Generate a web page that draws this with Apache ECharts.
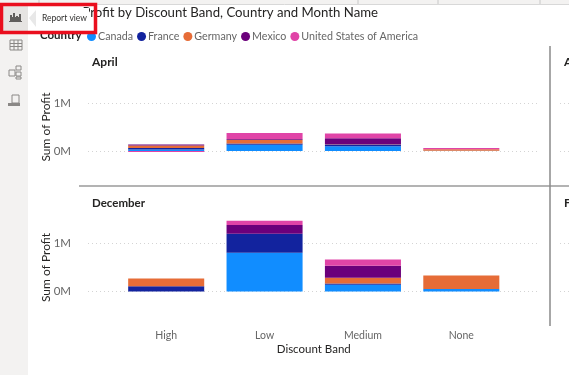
<!DOCTYPE html>
<html>
<head>
<meta charset="utf-8">
<title>Profit by Discount Band</title>
<script src="https://cdn.jsdelivr.net/npm/echarts@6/dist/echarts.min.js"></script>
<style>
html, body { margin: 0; padding: 0; background: #fff; overflow: hidden; }
#main { width: 569px; height: 375px; }
</style>
</head>
<body>
<div id="main"></div>
<script>
var discountBands = ['High', 'Low', 'Medium', 'None'];
var countries = ['Canada', 'France', 'Germany', 'Mexico', 'United States of America'];
var countryColors = ['#118DFF', '#12239E', '#E66C37', '#6B007B', '#E044A7'];
var yTicks = [0, 1];

// values in millions
var aprilCanada = [0.03, 0.13, 0.098, 0.004];
var aprilFrance = [0.03, 0.027, 0.035, 0];
var aprilGermany = [0.055, 0.077, 0.01, 0.03];
var aprilMexico = [0.02, 0.014, 0.125, 0];
var aprilUsa = [-0.02, 0.125, 0.098, 0.028];

var decemberCanada = [0, 0.805, 0.14, 0.05];
var decemberFrance = [0.11, 0.40, 0.028, 0];
var decemberGermany = [0.16, 0, 0.118, 0.285];
var decemberMexico = [0, 0.18, 0.25, 0];
var decemberUsa = [0, 0.09, 0.13, 0];

var aprilValues = [aprilCanada, aprilFrance, aprilGermany, aprilMexico, aprilUsa];
var decemberValues = [decemberCanada, decemberFrance, decemberGermany, decemberMexico, decemberUsa];

var panelTops = [79, 219.5];
var panelHeight = 96;
var font = 'Lato, "Noto Sans", sans-serif';
var gray = '#666666';
var dark = '#252423';

var grids = [], xAxes = [], yAxes = [], series = [];

function dottedLine() {
    return { show: true, lineStyle: { color: '#d4d4d4', type: [1, 3], width: 1 } };
}

function addPanel(top, name, values, showX) {
    // wide grid only carries the dotted lines and the y labels
    var g = grids.length;
    grids.push({ left: 88, width: 452, top: top, height: panelHeight });
    xAxes.push({ gridIndex: g, type: 'value', show: false, min: 0, max: 1 });
    yAxes.push({
        gridIndex: g, type: 'value', min: -0.5, max: 1.5,
        name: 'Sum of Profit', nameLocation: 'middle', nameGap: 36, nameMoveOverlap: false,
        nameTextStyle: { color: dark, fontFamily: font, fontSize: 12 },
        axisLine: { show: false },
        axisTick: { show: false, customValues: yTicks },
        axisLabel: {
            customValues: yTicks, color: gray, fontFamily: font, fontSize: 11.5, margin: 17,
            formatter: function (v) { return v + 'M'; }
        },
        splitLine: dottedLine()
    });

    // next panel, cut off at the right edge
    g = grids.length;
    grids.push({ left: 560, width: 9, top: top, height: panelHeight });
    xAxes.push({ gridIndex: g, type: 'value', show: false, min: 0, max: 1 });
    yAxes.push({
        gridIndex: g, type: 'value', min: -0.5, max: 1.5,
        axisLine: { show: false },
        axisTick: { show: false, customValues: yTicks },
        axisLabel: { show: false, customValues: yTicks },
        splitLine: dottedLine()
    });

    // bars
    g = grids.length;
    grids.push({ left: 117, width: 393.5, top: top, height: panelHeight });
    xAxes.push({
        gridIndex: g, type: 'category', data: discountBands,
        axisLine: { show: false }, axisTick: { show: false },
        axisLabel: { show: showX, color: gray, fontFamily: font, fontSize: 10.5, margin: 15 },
        name: showX ? 'Discount Band' : '', nameLocation: 'middle', nameGap: 28,
        nameTextStyle: { color: dark, fontFamily: font, fontSize: 11.5 }
    });
    yAxes.push({ gridIndex: g, type: 'value', show: false, min: -0.5, max: 1.5, splitLine: { show: false } });

    for (var i = 0; i < countries.length; i++) {
        series.push({
            name: countries[i], type: 'bar', stack: name,
            xAxisIndex: g, yAxisIndex: g,
            barCategoryGap: '22.7%',
            itemStyle: { color: countryColors[i] },
            silent: true,
            data: values[i]
        });
    }
}

addPanel(panelTops[0], 'April', aprilValues, false);
addPanel(panelTops[1], 'December', decemberValues, true);

function label(text, x, y, size, color, weight) {
    return { type: 'text', x: x, y: y, z: 5, style: { text: text, fill: color, font: (weight || 'normal') + ' ' + size + 'px ' + font } };
}
function box(x, y, w, h, fill, stroke, lw) {
    return {
        type: 'rect', z: 6, shape: { x: x, y: y, width: w, height: h },
        style: { fill: fill || 'transparent', stroke: stroke || null, lineWidth: lw || 0 }
    };
}
function line(x1, y1, x2, y2, color, w) {
    return {
        type: 'line', z: 6, shape: { x1: x1, y1: y1, x2: x2, y2: y2 },
        style: { stroke: color, lineWidth: w }
    };
}

var iconColor = '#605e5c';
var graphics = [
    label('Profit by Discount Band, Country and Month Name', 82.5, 6, 13.2, dark, 'normal'),
    label('Country', 40, 29, 11.5, dark, 'bold'),
    label('April', 92, 56, 12, dark, 'bold'),
    label('December', 92, 197, 11.5, dark, 'bold'),
    label('A', 564, 56, 12, dark, 'bold'),
    label('F', 564, 197, 12, dark, 'bold'),

    line(79, 186, 569, 186, '#9a9a9a', 1.5),
    line(550, 46, 550, 326, '#8a8a8a', 1.5),

    // ribbon strip along the top
    box(0, 0, 569, 4, '#f3f2f1'),
    line(0, 4.5, 569, 4.5, '#d8d8d8', 1),
    line(39, 0, 39, 4, '#c8c8c8', 1),
    line(358, 0, 358, 4, '#c8c8c8', 1),
    line(438, 0, 438, 4, '#c8c8c8', 1),
    line(540, 0, 540, 4, '#c8c8c8', 1),

    // left rail
    box(0, 0, 28, 375, '#f3f2f1'),
    box(2, 5, 26, 27, '#e6e4e2'),

    // report view icon
    box(10, 15, 2, 6, iconColor), box(12, 17, 1, 4, iconColor), box(13, 13, 2, 8, iconColor),
    box(15, 17, 1, 4, iconColor), box(16, 16, 2, 5, iconColor), box(18, 17, 1, 4, iconColor),
    box(19, 14, 2, 7, iconColor),
    line(9, 21.5, 22, 21.5, iconColor, 1),

    // table icon
    box(10, 40, 12, 10, 'transparent', '#8a8886', 1),
    line(14, 40, 14, 50, '#8a8886', 1), line(18, 40, 18, 50, '#8a8886', 1),
    line(10, 43.5, 22, 43.5, '#8a8886', 1), line(10, 46.5, 22, 46.5, '#8a8886', 1),

    // model icon
    box(9, 70, 6, 6, 'transparent', '#8a8886', 1),
    box(16, 66, 5, 4, 'transparent', '#8a8886', 1),
    box(16, 72, 5, 4, 'transparent', '#8a8886', 1),
    box(16, 77, 5, 2, 'transparent', '#8a8886', 1),

    // dax icon
    box(12, 95, 7, 8, 'transparent', '#8a8886', 1),
    box(8, 103, 12, 3, '#8a8886'),

    // tooltip with its arrow, sits on top of the title
    {
        type: 'polygon', z: 7, shape: { points: [[29, 18], [36, 10], [36, 27]] },
        style: { fill: '#e8e8e8' }
    },
    box(35, 8, 54, 22, '#ffffff'),
    { type: 'text', x: 42, y: 14, z: 8, style: { text: 'Report view', fill: '#323130', font: '8.5px ' + font } },

    // red highlight
    {
        type: 'rect', z: 9, shape: { x: 1.5, y: 4.5, width: 94, height: 28 },
        style: { fill: 'transparent', stroke: '#ea0f1e', lineWidth: 3.5 }
    }
];

var chart = echarts.init(document.getElementById('main'), null, { renderer: 'canvas' });
chart.setOption({
    animation: false,
    backgroundColor: '#ffffff',
    legend: {
        data: countries, left: 87, top: 31, padding: 0,
        icon: 'circle', itemWidth: 9, itemHeight: 9, itemGap: 4,
        textStyle: { color: gray, fontFamily: font, fontSize: 10.7, padding: [0, 0, 0, -3] },
        selectedMode: false
    },
    grid: grids,
    xAxis: xAxes,
    yAxis: yAxes,
    series: series,
    graphic: { elements: graphics }
});
</script>
</body>
</html>
